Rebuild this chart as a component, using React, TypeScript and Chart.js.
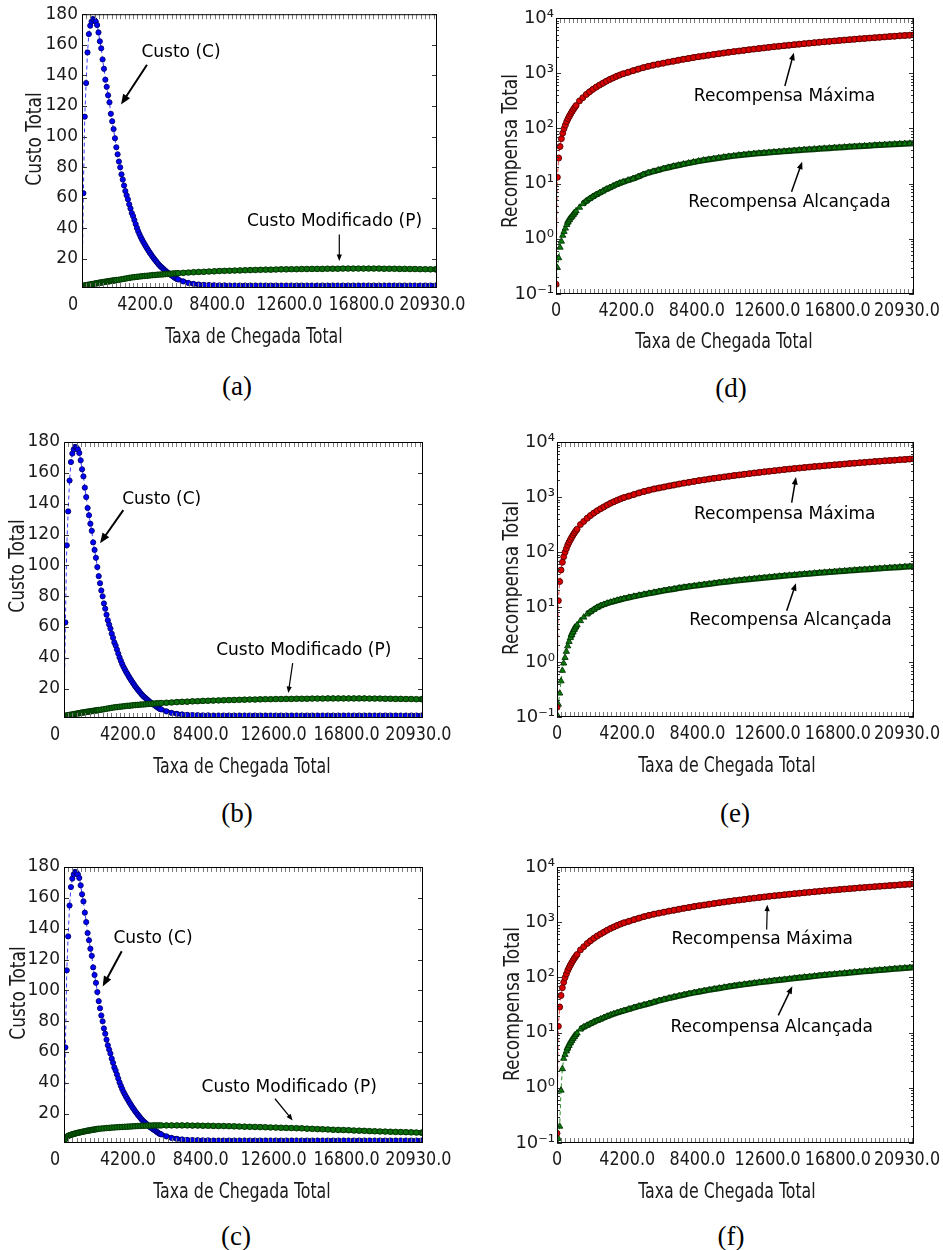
import React, { useEffect, useRef } from 'react';
import { Chart, registerables } from 'chart.js';

Chart.register(...registerables);

// ---------------- tick labels ----------------
const X_TICK_VALUES = [0, 4200, 8400, 12600, 16800, 20930];
const X_TICK_LABELS = ['0', '4200.0', '8400.0', '12600.0', '16800.0', '20930.0'];
const COST_Y_TICKS = [20, 40, 60, 80, 100, 120, 140, 160, 180];
const REWARD_Y_TICKS = [0.1, 1, 10, 100, 1000, 10000];
const REWARD_Y_LABELS = ['10⁻¹', '10⁰', '10¹', '10²', '10³', '10⁴'];

// ---------------- cost panels (a, b, c) ----------------
// sample positions of the cost curve C (denser where it falls steeply)
const X_COST_C = [
  520, 600, 680, 760, 840, 920, 1000, 1080, 1160, 1240, 1320, 1400, 1480, 1560, 1640, 1720, 1800, 1880, 1960, 2040,
  2120, 2200, 2280, 2360, 2440, 2520,
  2595, 2670, 2745, 2820, 2895, 2970, 3045, 3120, 3195, 3270, 3345, 3420, 3495, 3570, 3645, 3720, 3795, 3870, 3945,
  4020, 4095, 4170, 4245, 4320, 4395, 4470, 4545, 4620, 4695, 4770, 4845, 4920, 4995, 5070, 5145, 5220, 5295, 5370,
  5445, 5520, 5595, 5670, 5745, 5820, 5895, 5970, 6045, 6120,
  6420, 6720, 7020, 7320, 7620, 7920, 8220, 8520, 8820, 9120, 9420, 9720, 10020, 10320, 10620, 10920, 11220, 11520,
  11820, 12120, 12420, 12720, 13020, 13320, 13620, 13920, 14220, 14520, 14820, 15120, 15420, 15720, 16020, 16320,
  16620, 16920, 17220, 17520, 17820, 18120, 18420, 18720, 19020, 19320, 19620, 19920, 20220, 20520, 20820, 21120, 21200,
];

const COST_C = [
  2, 63, 113, 135, 155, 167, 172.5, 175.2, 176.8, 176.3, 175.2, 172.9, 168.1, 162.3, 157.7, 150.4, 144.3, 137.2, 132.5, 127,
  122.4, 114.9, 110, 104.9, 98.9, 93,
  88.4, 83.7, 79.9, 75.3, 71.9, 68.0, 64.4, 61.6, 59.0, 55.7, 53.0, 50.0, 48.0, 45.4, 42.8, 40.3, 38.1, 36.1, 34.2,
  32.6, 31.0, 29.6, 28.1, 26.7, 25.4, 24.1, 22.9, 21.6, 20.5, 19.4, 18.4, 17.3, 16.3, 15.4, 14.6, 13.9, 13.1, 12.4,
  11.6, 11.0, 10.4, 9.8, 9.2, 8.6, 8.0, 7.4, 6.9, 6.6,
  5.3, 4.3, 3.7, 3.3, 3.0, 2.9, 2.8, 2.7, 2.7, 2.6, 2.6, 2.6,
  2.6, 2.6, 2.6, 2.6, 2.6, 2.6, 2.6, 2.6, 2.6, 2.6,
  2.6, 2.6, 2.6, 2.6, 2.6, 2.6, 2.6, 2.6, 2.6, 2.6,
  2.6, 2.6, 2.6, 2.6, 2.6, 2.6, 2.6, 2.6, 2.6, 2.6,
  2.6, 2.6, 2.6, 2.6, 2.6, 2.6, 2.6, 2.6, 2.6,
];

// sample positions of the modified cost curve P
const X_COST_P = [
  520, 600, 680, 760, 840, 920, 1000, 1080, 1160, 1240, 1320, 1400, 1480, 1560, 1640, 1720, 1800, 1880, 1960, 2040,
  2120, 2200, 2280, 2360, 2440, 2520,
  2670, 2820, 2970, 3120, 3270, 3420, 3570, 3720, 3870, 4020, 4170, 4320, 4470, 4620, 4770, 4920, 5070, 5220, 5370,
  5520, 5670, 5820, 5970, 6120,
  6420, 6720, 7020, 7320, 7620, 7920, 8220, 8520, 8820, 9120, 9420, 9720, 10020, 10320, 10620, 10920, 11220, 11520,
  11820, 12120, 12420, 12720, 13020, 13320, 13620, 13920, 14220, 14520, 14820, 15120, 15420, 15720, 16020, 16320,
  16620, 16920, 17220, 17520, 17820, 18120, 18420, 18720, 19020, 19320, 19620, 19920, 20220, 20520, 20820, 21120, 21200,
];

const COST_P_AB = [
  2.3, 2.5, 2.6, 2.8, 3.0, 3.1, 3.3, 3.5, 3.6, 3.8, 4.0, 4.1, 4.3, 4.5, 4.6, 4.8, 4.9, 5.1, 5.2, 5.3,
  5.5, 5.6, 5.8, 5.9, 6.0, 6.2,
  6.4, 6.7, 7.0, 7.3, 7.6, 7.9, 8.1, 8.3, 8.5, 8.7, 8.9, 9.0, 9.2, 9.4, 9.5, 9.7, 9.8, 9.9, 10.1,
  10.2, 10.3, 10.5, 10.6, 10.7,
  10.9, 11.1, 11.3, 11.5, 11.6, 11.8, 11.9, 12.1, 12.2, 12.3,
  12.4, 12.5, 12.6, 12.7, 12.8, 12.9, 13.0, 13.0, 13.1, 13.2,
  13.2, 13.3, 13.3, 13.4, 13.4, 13.5, 13.5, 13.5, 13.6, 13.6,
  13.6, 13.7, 13.7, 13.7, 13.7, 13.7, 13.7, 13.7, 13.7, 13.6,
  13.6, 13.6, 13.5, 13.5, 13.4, 13.4, 13.3, 13.3, 13.2, 13.2, 13.2,
];

const COST_P_C = [
  1.0, 3.5, 5.0, 5.6, 6.0, 6.3, 6.6, 6.9, 7.1, 7.4, 7.6, 7.8, 8.0, 8.2, 8.4, 8.6, 8.8, 9.0, 9.1, 9.3,
  9.5, 9.6, 9.8, 9.9, 10.1, 10.2,
  10.4, 10.5, 10.7, 10.8, 11.0, 11.1, 11.2, 11.3, 11.4, 11.5, 11.6, 11.7, 11.8, 11.9, 12.0, 12.1, 12.2, 12.2, 12.3,
  12.3, 12.4, 12.4, 12.4, 12.4,
  12.4, 12.4, 12.4, 12.4, 12.4, 12.3, 12.3, 12.2, 12.2, 12.1,
  12.0, 12.0, 11.9, 11.8, 11.7, 11.6, 11.5, 11.4, 11.3, 11.2,
  11.1, 11.0, 10.9, 10.8, 10.7, 10.6, 10.5, 10.3, 10.2, 10.0,
  9.9, 9.8, 9.6, 9.5, 9.4, 9.3, 9.1, 9.0, 8.9, 8.7,
  8.6, 8.5, 8.4, 8.3, 8.2, 8.1, 8.0, 7.9, 7.8, 7.7, 7.7,
];

// ---------------- reward panels (d, e, f) ----------------
const X_REWARD = [
  0, 80, 160, 240, 320, 400, 480, 560, 640, 720, 800, 880, 960, 1040, 1120, 1200,
  1400, 1600, 1800, 2000, 2200, 2400, 2600, 2800, 3000, 3200, 3400, 3600, 3800, 4000,
  4300, 4600, 4900, 5200, 5500, 5800, 6100, 6400, 6700, 7000,
  7300, 7600, 7900, 8200, 8500, 8800, 9100, 9400, 9700, 10000,
  10300, 10600, 10900, 11200, 11500, 11800, 12100, 12400, 12700, 13000,
  13300, 13600, 13900, 14200, 14500, 14800, 15100, 15400, 15700, 16000,
  16300, 16600, 16900, 17200, 17500, 17800, 18100, 18400, 18700, 19000,
  19300, 19600, 19900, 20200, 20500, 20800, 21100, 21350,
];

const REWARD_MAX = [
  0.15, 13, 29, 47, 65, 82, 99, 115, 133, 150, 167, 185, 203, 222, 241, 260,
  315, 360, 410, 460, 510, 560, 610, 660, 715, 770, 820, 875, 925, 975,
  1040, 1110, 1185, 1260, 1330, 1400, 1460, 1520, 1590, 1650,
  1720, 1790, 1850, 1920, 1990, 2050, 2120, 2190, 2250, 2320,
  2390, 2460, 2520, 2590, 2660, 2730, 2800, 2870, 2940, 3010,
  3080, 3150, 3220, 3290, 3360, 3430, 3500, 3570, 3640, 3700,
  3770, 3840, 3910, 3980, 4050, 4120, 4190, 4260, 4330, 4400,
  4470, 4540, 4610, 4680, 4750, 4820, 4890, 4950,
];

const REWARD_ACH_D = [
  0.15, 0.3, 0.45, 0.7, 0.9, 1.15, 1.35, 1.55, 1.8, 2.0, 2.2, 2.4, 2.55, 2.75, 2.95, 3.2,
  3.7, 4.3, 4.8, 5.3, 5.8, 6.3, 6.8, 7.3, 7.9, 8.4, 9.0, 9.6, 10.2, 10.7,
  11.5, 12.3, 13.3, 14.6, 15.7, 16.6, 17.6, 18.6, 19.6, 20.6,
  21.5, 22.5, 23.5, 24.5, 25.5, 26.5, 27.4, 28.3, 29.2, 30.1,
  31.0, 31.8, 32.6, 33.4, 34.1, 34.8, 35.4, 36.0, 36.6, 37.2,
  37.8, 38.4, 39.0, 39.7, 40.3, 40.9, 41.5, 42.1, 42.7, 43.3,
  43.9, 44.5, 45.1, 45.7, 46.3, 46.9, 47.5, 48.1, 48.7, 49.3,
  49.9, 50.5, 51.1, 51.7, 52.3, 52.9, 53.5, 54.0,
];

const REWARD_ACH_E = [
  0.11, 0.17, 0.27, 0.45, 0.7, 0.95, 1.2, 1.55, 1.95, 2.35, 2.75, 3.1, 3.5, 3.9, 4.3, 4.7,
  5.6, 6.5, 7.4, 8.2, 9.0, 9.8, 10.5, 11.1, 11.7, 12.2, 12.7, 13.2, 13.7, 14.2,
  14.9, 15.6, 16.3, 17.0, 17.7, 18.4, 19.1, 19.9, 20.6, 21.3,
  22.1, 22.8, 23.5, 24.2, 24.9, 25.6, 26.3, 27.0, 27.8, 28.5,
  29.2, 29.9, 30.6, 31.3, 32.0, 32.7, 33.4, 34.1, 34.8, 35.5,
  36.2, 36.9, 37.6, 38.3, 39.0, 39.7, 40.4, 41.1, 41.8, 42.5,
  43.2, 43.9, 44.6, 45.3, 46.0, 46.7, 47.4, 48.1, 48.8, 49.5,
  50.2, 50.9, 51.6, 52.3, 53.0, 53.7, 54.4, 55.0,
];

const REWARD_ACH_F = [
  0.1, 0.12, 0.2, 0.9, 2.2, 3.4, 4.0, 4.6, 5.2, 5.8, 6.5, 7.1, 7.8, 8.4, 9.1, 9.8,
  11.5, 12.6, 13.5, 14.5, 15.5, 16.5, 17.5, 18.6, 19.7, 20.8, 21.9, 22.9, 23.9, 24.9,
  26.6, 28.4, 30.1, 31.8, 33.6, 35.7, 37.8, 40.0, 42.1, 44.2,
  46.4, 48.5, 50.7, 52.9, 55.1, 57.3, 59.4, 61.6, 63.8, 66.0,
  68.2, 70.4, 72.6, 74.8, 76.9, 79.0, 81.2, 83.3, 85.5, 87.6,
  89.7, 91.8, 94.0, 96.2, 98.5, 100.8, 103.1, 105.4, 107.8, 110.1,
  112.4, 114.7, 117.1, 119.4, 121.7, 124.1, 126.4, 128.8, 131.1, 133.5,
  135.8, 138.2, 140.5, 142.9, 145.3, 147.6, 150.0, 152.0,
];

// ---------------- styles ----------------
const SANS = "'DejaVu Sans', Verdana, sans-serif";
const COND = "'DejaVu Sans Condensed', 'DejaVu Sans', sans-serif";
const SERIF = "'Liberation Serif', 'Times New Roman', serif";
const INK = '#1a1a1a';

type SeriesStyle = { fill: string; edge: string; band: string; dash: string; style: string; radius: number; bandWidth: number };
const BLUE: SeriesStyle = { fill: '#0000ff', edge: '#00006a', band: '#000078', dash: '#3a3aff', style: 'circle', radius: 2.6, bandWidth: 4.5 };
const GREEN_DOT: SeriesStyle = { fill: '#0a6e0a', edge: '#023002', band: '#0b3f0b', dash: '#2f8f2f', style: 'circle', radius: 2.8, bandWidth: 5 };
const RED: SeriesStyle = { fill: '#d80000', edge: '#5a0000', band: '#7e0000', dash: '#e04040', style: 'circle', radius: 3, bandWidth: 6 };
const GREEN_TRI: SeriesStyle = { fill: '#0a7a0a', edge: '#023302', band: '#0b3f0b', dash: '#2f8f2f', style: 'triangle', radius: 3.6, bandWidth: 6 };

type Series = { x: number[]; y: number[]; st: SeriesStyle };
type Note = { text: string; at: [number, number]; from: [number, number]; to: [number, number]; lw: number; head: number };
type Panel = {
  key: string;
  caption: string;
  capX: number;
  capY: number;
  left: number;
  top: number;
  width: number;
  height: number;
  plot: { left: number; right: number; top: number; bottom: number };
  kind: 'cost' | 'reward';
  xMin: number;
  xMax: number;
  xTitle: [number, number];
  yTitle: [number, number];
  series: Series[];
  notes: Note[];
};

const PANELS: Panel[] = [
  {
    key: 'a', caption: '(a)', capX: 237, capY: 386,
    left: 0, top: 0, width: 471, height: 360,
    plot: { left: 82, right: 437, top: 13, bottom: 288 },
    kind: 'cost', xMin: 520, xMax: 21200, xTitle: [254, 337], yTitle: [35.5, 139],
    series: [
      { x: X_COST_P, y: COST_P_AB, st: GREEN_DOT },
      { x: X_COST_C, y: COST_C, st: BLUE },
    ],
    notes: [
      { text: 'Custo (C)', at: [6287, 155], from: [4306, 147], to: [2792, 121], lw: 2, head: 11 },
      { text: 'Custo Modificado (P)', at: [15228, 44.2], from: [15508, 36], to: [15508, 18.7], lw: 1.2, head: 7 },
    ],
  },
  {
    key: 'b', caption: '(b)', capX: 237, capY: 813,
    left: 0, top: 425, width: 471, height: 360,
    plot: { left: 64, right: 423, top: 442, bottom: 718 },
    kind: 'cost', xMin: 520, xMax: 21200, xTitle: [242, 767], yTitle: [18.8, 566],
    series: [
      { x: X_COST_P, y: COST_P_AB, st: GREEN_DOT },
      { x: X_COST_C, y: COST_C, st: BLUE },
    ],
    notes: [
      { text: 'Custo (C)', at: [6148, 142.6], from: [3936, 135.8], to: [2594, 114.3], lw: 2, head: 11 },
      { text: 'Custo Modificado (P)', at: [14332, 44.6], from: [13693, 36.6], to: [13440, 17.2], lw: 1.2, head: 7 },
    ],
  },
  {
    key: 'c', caption: '(c)', capX: 236, capY: 1236,
    left: 0, top: 850, width: 471, height: 360,
    plot: { left: 64, right: 423, top: 867, bottom: 1143 },
    kind: 'cost', xMin: 520, xMax: 21200, xTitle: [242, 1192], yTitle: [20, 993],
    series: [
      { x: X_COST_P, y: COST_P_C, st: GREEN_DOT },
      { x: X_COST_C, y: COST_C, st: BLUE },
    ],
    notes: [
      { text: 'Custo (C)', at: [5646, 133.9], from: [3844, 125.4], to: [2749, 102.5], lw: 2, head: 11 },
      { text: 'Custo Modificado (P)', at: [13492, 36.7], from: [12674, 29.7], to: [13693, 15.6], lw: 1.2, head: 7 },
    ],
  },
  {
    key: 'd', caption: '(d)', capX: 731, capY: 388,
    left: 471, top: 0, width: 472, height: 360,
    plot: { left: 556, right: 914, top: 18, bottom: 294 },
    kind: 'reward', xMin: 0, xMax: 21350, xTitle: [724, 342], yTitle: [511.7, 151],
    series: [
      { x: X_REWARD, y: REWARD_MAX, st: RED },
      { x: X_REWARD, y: REWARD_ACH_D, st: GREEN_TRI },
    ],
    notes: [
      { text: 'Recompensa Máxima', at: [13630, 371], from: [13648, 586], to: [14185, 2350], lw: 1.5, head: 8 },
      { text: 'Recompensa Alcançada', at: [13917, 4.46], from: [14047, 7.13], to: [14680, 24.9], lw: 1.5, head: 8 },
    ],
  },
  {
    key: 'e', caption: '(e)', capX: 735, capY: 813,
    left: 471, top: 425, width: 472, height: 360,
    plot: { left: 557, right: 914, top: 442, bottom: 717 },
    kind: 'reward', xMin: 0, xMax: 21350, xTitle: [727, 766], yTitle: [512.7, 578],
    series: [
      { x: X_REWARD, y: REWARD_MAX, st: RED },
      { x: X_REWARD, y: REWARD_ACH_E, st: GREEN_TRI },
    ],
    notes: [
      { text: 'Recompensa Máxima', at: [13616, 472], from: [14035, 789], to: [14292, 2300], lw: 1.5, head: 8 },
      { text: 'Recompensa Alcançada', at: [13963, 5.56], from: [13736, 8.53], to: [14292, 27], lw: 1.5, head: 8 },
    ],
  },
  {
    key: 'f', caption: '(f)', capX: 731, capY: 1236,
    left: 471, top: 850, width: 472, height: 360,
    plot: { left: 557, right: 914, top: 867, bottom: 1143 },
    kind: 'reward', xMin: 0, xMax: 21350, xTitle: [727, 1192], yTitle: [513.3, 1004],
    series: [
      { x: X_REWARD, y: REWARD_MAX, st: RED },
      { x: X_REWARD, y: REWARD_ACH_F, st: GREEN_TRI },
    ],
    notes: [
      { text: 'Recompensa Máxima', at: [12277, 483], from: [12540, 740], to: [12576, 2080], lw: 1.2, head: 7 },
      { text: 'Recompensa Alcançada', at: [12839, 12.4], from: [13234, 20.5], to: [14071, 69], lw: 1.5, head: 8 },
    ],
  },
];

// ---------------- plugins ----------------
function makeFramePlugin(p: Panel) {
  const kind = p.kind;
  return {
    id: 'frame',
    afterDatasetsDraw(chart: any) {
      const { ctx, chartArea: a, scales } = chart;
      const xs = scales.x;
      const ys = scales.y;
      ctx.save();
      // dense minor ticks along top and bottom
      ctx.strokeStyle = '#7a7a7a';
      ctx.lineWidth = 1;
      ctx.beginPath();
      const step = 250;
      for (let v = Math.ceil(xs.min / step) * step; v <= xs.max; v += step) {
        const px = Math.round(xs.getPixelForValue(v)) + 0.5;
        ctx.moveTo(px, a.top);
        ctx.lineTo(px, a.top + 5);
        ctx.moveTo(px, a.bottom);
        ctx.lineTo(px, a.bottom - 5);
      }
      ctx.stroke();
      // y ticks (inward)
      ctx.strokeStyle = '#333';
      ctx.beginPath();
      const majors = kind === 'cost' ? COST_Y_TICKS : REWARD_Y_TICKS;
      for (const v of majors) {
        const py = Math.round(ys.getPixelForValue(v)) + 0.5;
        ctx.moveTo(a.left, py);
        ctx.lineTo(a.left + 5, py);
        ctx.moveTo(a.right, py);
        ctx.lineTo(a.right - 5, py);
      }
      if (kind === 'reward') {
        for (let d = 0; d < REWARD_Y_TICKS.length - 1; d++) {
          for (let m = 2; m <= 9; m++) {
            const py = Math.round(ys.getPixelForValue(REWARD_Y_TICKS[d] * m)) + 0.5;
            ctx.moveTo(a.left, py);
            ctx.lineTo(a.left + 3, py);
            ctx.moveTo(a.right, py);
            ctx.lineTo(a.right - 3, py);
          }
        }
      }
      ctx.stroke();
      // frame
      ctx.strokeStyle = '#000';
      ctx.lineWidth = 1;
      ctx.strokeRect(a.left + 0.5, a.top + 0.5, a.right - a.left - 1, a.bottom - a.top - 1);
      ctx.restore();
    },
    afterDraw(chart: any) {
      const { ctx, chartArea: a, scales } = chart;
      const xs = scales.x;
      ctx.save();
      ctx.fillStyle = INK;
      ctx.textAlign = 'center';
      ctx.textBaseline = 'middle';
      // x tick labels (narrow lettering), placed by the x scale
      xs.ticks.forEach((t: any, i: number) => {
        ctx.save();
        ctx.translate(xs.getPixelForValue(t.value), a.bottom + 17);
        ctx.scale(0.8, 1);
        ctx.font = `20px ${SANS}`;
        ctx.fillText(X_TICK_LABELS[i], 0, 0);
        ctx.restore();
      });
      // x-axis title
      ctx.save();
      ctx.translate(p.xTitle[0] - p.left, p.xTitle[1] - p.top);
      ctx.scale(0.8, 1);
      ctx.font = `22px ${COND}`;
      ctx.fillText('Taxa de Chegada Total', 0, 0);
      ctx.restore();
      // y-axis title
      ctx.save();
      ctx.translate(p.yTitle[0] - p.left, p.yTitle[1] - p.top);
      ctx.rotate(-Math.PI / 2);
      if (kind === 'cost') {
        ctx.scale(0.9, 1);
        ctx.font = `21px ${COND}`;
        ctx.fillText('Custo Total', 0, 0);
      } else {
        ctx.scale(0.86, 1);
        ctx.font = `22px ${COND}`;
        ctx.fillText('Recompensa Total', 0, 0);
      }
      ctx.restore();
      ctx.restore();
    },
  };
}

function makeNotesPlugin(notes: Note[]) {
  return {
    id: 'notes',
    afterDatasetsDraw(chart: any) {
      const { ctx, scales } = chart;
      const xs = scales.x;
      const ys = scales.y;
      ctx.save();
      for (const n of notes) {
        ctx.font = `17px ${SANS}`;
        ctx.fillStyle = '#000';
        ctx.textAlign = 'center';
        ctx.textBaseline = 'middle';
        ctx.fillText(n.text, xs.getPixelForValue(n.at[0]), ys.getPixelForValue(n.at[1]));
        const x0 = xs.getPixelForValue(n.from[0]);
        const y0 = ys.getPixelForValue(n.from[1]);
        const x1 = xs.getPixelForValue(n.to[0]);
        const y1 = ys.getPixelForValue(n.to[1]);
        const ang = Math.atan2(y1 - y0, x1 - x0);
        ctx.strokeStyle = '#000';
        ctx.lineWidth = n.lw;
        ctx.beginPath();
        ctx.moveTo(x0, y0);
        ctx.lineTo(x1 - Math.cos(ang) * n.head * 0.7, y1 - Math.sin(ang) * n.head * 0.7);
        ctx.stroke();
        ctx.beginPath();
        ctx.moveTo(x1, y1);
        ctx.lineTo(x1 - n.head * Math.cos(ang - 0.38), y1 - n.head * Math.sin(ang - 0.38));
        ctx.lineTo(x1 - n.head * Math.cos(ang + 0.38), y1 - n.head * Math.sin(ang + 0.38));
        ctx.closePath();
        ctx.fill();
      }
      ctx.restore();
    },
  };
}

const steep = (c: any) => Math.abs(c.p1.y - c.p0.y) > 3;

function buildConfig(p: Panel): any {
  const isCost = p.kind === 'cost';
  const yAxisWidth = p.plot.left - p.left;
  const xAxisHeight = p.top + p.height - p.plot.bottom;
  return {
    type: 'line',
    data: {
      datasets: p.series.map((s) => ({
        data: s.x.map((x, i) => ({ x, y: s.y[i] })),
        borderColor: s.st.band,
        backgroundColor: s.st.fill,
        pointBackgroundColor: s.st.fill,
        pointBorderColor: s.st.edge,
        pointBorderWidth: 0.9,
        pointRadius: s.st.radius,
        pointStyle: s.st.style,
        borderWidth: s.st.bandWidth,
        tension: 0,
        fill: false,
        segment: {
          borderWidth: (c: any) => (steep(c) ? 1 : s.st.bandWidth),
          borderDash: (c: any) => (steep(c) ? [4, 3] : undefined),
          borderColor: (c: any) => (steep(c) ? s.st.dash : s.st.band),
        },
      })),
    },
    options: {
      responsive: false,
      animation: false,
      devicePixelRatio: 1,
      events: [],
      layout: {
        padding: { left: 0, top: p.plot.top - p.top, right: p.left + p.width - p.plot.right, bottom: 0 },
      },
      plugins: {
        legend: { display: false },
        tooltip: { enabled: false },
        title: { display: false },
      },
      scales: {
        x: {
          type: 'linear',
          min: p.xMin,
          max: p.xMax,
          grid: { display: false, drawTicks: false },
          border: { display: false },
          afterBuildTicks: (s: any) => {
            s.ticks = X_TICK_VALUES.map((v) => ({ value: v }));
          },
          afterFit: (s: any) => {
            s.height = xAxisHeight;
          },
          ticks: { display: false, autoSkip: false, maxRotation: 0, minRotation: 0 },
          title: { display: false },
        },
        y: {
          type: isCost ? 'linear' : 'logarithmic',
          min: isCost ? 1 : 0.1,
          max: isCost ? 180 : 10000,
          grid: { display: false, drawTicks: false },
          border: { display: false },
          afterBuildTicks: (s: any) => {
            s.ticks = (isCost ? COST_Y_TICKS : REWARD_Y_TICKS).map((v) => ({ value: v }));
          },
          afterFit: (s: any) => {
            s.width = yAxisWidth;
          },
          ticks: {
            autoSkip: false,
            padding: isCost ? 4 : 2,
            color: INK,
            font: { family: SANS, size: isCost ? 17 : 18 },
            callback: (_v: any, i: number) => (isCost ? String(COST_Y_TICKS[i]) : REWARD_Y_LABELS[i]),
          },
          title: { display: false },
        },
      },
    },
    plugins: [makeFramePlugin(p), makeNotesPlugin(p.notes)],
  };
}

function PanelChart({ p }: { p: Panel }) {
  const ref = useRef<HTMLCanvasElement | null>(null);
  useEffect(() => {
    if (!ref.current) return;
    const chart = new Chart(ref.current, buildConfig(p));
    return () => chart.destroy();
  }, [p]);
  return (
    <div style={{ position: 'absolute', left: p.left, top: p.top, width: p.width, height: p.height }}>
      <canvas ref={ref} width={p.width} height={p.height} style={{ width: p.width, height: p.height, display: 'block' }} />
    </div>
  );
}

export default function App() {
  return (
    <div style={{ position: 'absolute', left: 0, top: 0, width: 943, height: 1250, background: '#fff', overflow: 'hidden' }}>
      {PANELS.map((p) => (
        <PanelChart key={p.key} p={p} />
      ))}
      {PANELS.map((p) => (
        <div
          key={'cap-' + p.key}
          style={{
            position: 'absolute',
            left: p.capX - 50,
            top: p.capY - 15,
            width: 100,
            height: 30,
            lineHeight: '30px',
            textAlign: 'center',
            fontFamily: SERIF,
            fontSize: 27,
            color: '#000',
          }}
        >
          {p.caption}
        </div>
      ))}
    </div>
  );
}
